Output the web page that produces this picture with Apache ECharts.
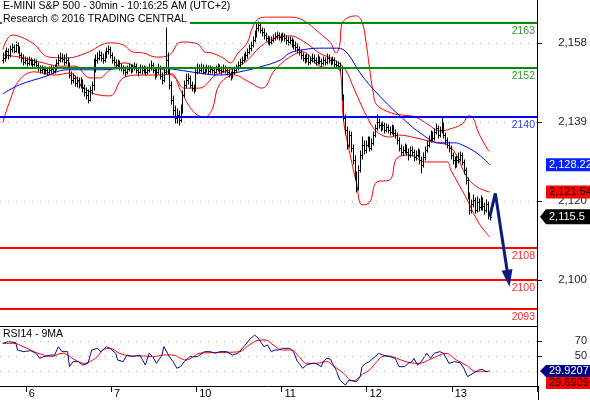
<!DOCTYPE html>
<html><head><meta charset="utf-8">
<script src="https://cdn.jsdelivr.net/npm/echarts@6/dist/echarts.min.js"></script>
<style>html,body{margin:0;padding:0;background:#fff}#c{width:590px;height:400px}</style>
</head><body><div id="c"></div>
<script>
const FONT = '"Liberation Sans", Arial, Helvetica, sans-serif';
const titleLine1 = 'E-MINI S&P 500 - 30min - 10:16:25 AM (UTC+2)';
const titleLine2 = 'Research \u00A9 2016 TRADING CENTRAL';
const rsiTitle = 'RSI14 - 9MA';

const categoryCount = 290;
const dayLabels = ['6','7','10','11','12','13'];
const dayStartIdx = [14,60,106,152,198,244];
const firstBarIdx = 1;

// [open, close, low, high] per 30-min bar
const ohlc = [
[2154,2154.5,2153.25,2155.5],[2154.5,2155,2153.75,2156],[2155,2156,2154.5,2156.75],[2156,2155,2154.25,2156.5],[2155,2156.5,2154.75,2157.25],
[2156.5,2157,2155.75,2157.75],[2157,2156,2155.5,2157.5],[2156,2157.5,2155.75,2158.25],[2157.5,2156.5,2155.5,2158],[2156.5,2155,2154.5,2157],
[2155,2154.5,2153.5,2155.5],[2154.5,2153.5,2152.75,2155],[2153.5,2154,2153,2154.75],[2154,2153.25,2152.5,2154.5],[2153.25,2154,2152.75,2154.75],
[2154,2153.5,2152.75,2154.5],[2153.5,2153,2152.25,2154],[2153,2153.5,2152.5,2154.25],[2153.5,2152.75,2152,2154],[2152.75,2152,2151.25,2153.25],
[2152,2151.5,2150.75,2152.5],[2151.5,2151.75,2150.75,2152.5],[2151.75,2151.25,2150.5,2152.25],[2151.25,2151.5,2150.5,2152.25],[2151.5,2151,2150.25,2152],
[2151,2151.5,2150.5,2152.25],[2151.5,2151.75,2150.75,2152.5],[2151.75,2151.25,2150.5,2152.25],[2151.25,2152,2150.75,2152.75],[2152,2153.25,2151.5,2154],
[2153.25,2154,2152.75,2155],[2154,2154.5,2153.5,2155.5],[2154.5,2154.25,2153.5,2155.25],[2154.25,2153.5,2152.75,2155],[2153.5,2154,2153,2155.25],
[2154,2152.75,2152,2154.5],[2152.75,2150.25,2149.5,2153.25],[2150.25,2149,2148,2151],[2149,2149.5,2148.25,2150.5],[2149.5,2148.25,2147.5,2150],
[2148.25,2149,2147.25,2149.75],[2149,2147.75,2147,2149.5],[2147.75,2148.5,2147,2149.5],[2148.5,2147,2146,2149],[2147,2146,2145,2147.75],
[2146,2145.25,2144.25,2147],[2145.25,2144,2143.25,2146.5],[2144,2146.5,2143.75,2147.25],[2146.5,2147.75,2145.5,2148.5],[2147.75,2151.5,2146.5,2154.25],
[2151.5,2154,2151,2155],[2154,2154.5,2153.25,2155.5],[2154.5,2155,2154,2156],[2155,2154.5,2153.75,2155.75],[2154.5,2154,2153.25,2155.25],
[2154,2155,2153.5,2155.75],[2155,2156,2154.5,2156.75],[2156,2156.5,2155.25,2157.25],[2156.5,2155,2154.5,2157],[2155,2154,2153.25,2155.5],
[2154,2153.5,2152.75,2154.75],[2153.5,2152.75,2152,2154],[2152.75,2153.25,2152.25,2154],[2153.25,2152.25,2151.5,2153.75],[2152.25,2152,2151.25,2153],
[2152,2151.5,2150.5,2152.5],[2151.5,2151,2150,2152.25],[2151,2151.75,2150.5,2152.5],[2151.75,2152.25,2151.25,2153],[2152.25,2151.5,2150.75,2152.75],
[2151.5,2152,2151,2152.75],[2152,2152.5,2151.5,2153.25],[2152.5,2151.5,2150.75,2153],[2151.5,2151,2150,2152],[2151,2152,2150.75,2152.75],
[2152,2151.5,2150.5,2152.5],[2151.5,2151.75,2150.75,2152.5],[2151.75,2151,2150.25,2152.25],[2151,2151.5,2150.5,2152.25],[2151.5,2152,2151,2153],
[2152,2152.75,2151.5,2153.75],[2152.75,2151.5,2150.75,2153.25],[2151.5,2150.25,2149.25,2152],[2150.25,2151,2149.75,2152],[2151,2152,2150.5,2153],
[2152,2150,2149.25,2152.5],[2150,2149,2148,2150.75],[2149,2151,2148.5,2152],[2151,2154,2150.5,2161.75],[2154,2151.5,2150.5,2155.5],
[2151.5,2147.75,2146.75,2152],[2147.75,2144,2143,2148.5],[2144,2141.75,2140.5,2145],[2141.75,2139.75,2138.5,2142.5],[2139.75,2140.5,2138.5,2142],
[2140.5,2139.25,2138,2141.5],[2139.25,2141.75,2138.75,2142.75],[2141.75,2145.25,2141,2146.25],[2145.25,2147.75,2144.75,2148.75],[2147.75,2149,2147,2150.5],
[2149,2149.5,2148,2150.5],[2149.5,2147.75,2147,2150],[2147.75,2147,2146.25,2148.5],[2147,2146.5,2145.75,2147.75],[2146.5,2151,2146.25,2151.75],
[2151,2152,2150.5,2153],[2152,2151.5,2150.75,2152.75],[2151.5,2152.25,2151,2153],[2152.25,2151,2150.5,2152.75],[2151,2151.5,2150.5,2152.25],
[2151.5,2152,2151,2152.75],[2152,2151.25,2150.5,2152.5],[2151.25,2151.75,2150.75,2152.5],[2151.75,2151.5,2150.75,2152.25],[2151.5,2151,2150.25,2152],
[2151,2151.75,2150.75,2152.5],[2151.75,2152.25,2151.25,2153],[2152.25,2151.5,2150.75,2152.75],[2151.5,2151.25,2150.5,2152.25],[2151.25,2152,2151,2152.75],
[2152,2151.5,2150.75,2152.5],[2151.5,2151,2150.25,2152],[2151,2150.5,2149.75,2151.5],[2150.5,2150,2149,2151],[2150,2151,2149.5,2151.75],
[2151,2151.5,2150.5,2152.25],[2151.5,2152,2151,2152.75],[2152,2152.75,2151.5,2153.5],[2152.75,2153.5,2152.25,2154.25],[2153.5,2154,2153,2154.75],
[2154,2154.5,2153.5,2155.25],[2154.5,2155,2154,2155.75],[2155,2155.75,2154.5,2156.5],[2155.75,2156.75,2155.25,2157.5],[2156.75,2157.5,2156,2158.25],
[2157.5,2158.75,2157,2159.5],[2158.75,2160,2158.25,2161],[2160,2161.75,2159.5,2162.75],[2161.75,2162.5,2161,2163.25],[2162.5,2161.25,2160.5,2163],
[2161.25,2160.75,2159.75,2161.75],[2160.75,2160,2159,2161.5],[2160,2159.25,2158.5,2160.5],[2159.25,2158.75,2157.75,2159.75],[2158.75,2158.25,2157.5,2159.5],
[2158.25,2158.75,2157.75,2159.5],[2158.75,2159.25,2158.25,2160],[2159.25,2159.75,2158.75,2160.5],[2159.75,2160,2159,2160.75],[2160,2159.5,2158.75,2160.5],
[2159.5,2159.25,2158.25,2160.25],[2159.25,2159.75,2158.75,2160.5],[2159.75,2159.25,2158.5,2160.25],[2159.25,2158.75,2157.75,2159.75],[2158.75,2158.25,2157.5,2159.5],
[2158.25,2158.75,2157.75,2159.5],[2158.75,2158,2157,2159.25],[2158,2157.5,2156.5,2158.75],[2157.5,2157,2156,2158.25],[2157,2156.5,2155.5,2157.75],
[2156.5,2155.75,2155,2157],[2155.75,2155,2154.25,2156.25],[2155,2154.5,2153.75,2155.5],[2154.5,2154,2153.25,2155],[2154,2154.5,2153.5,2155.25],
[2154.5,2153.5,2152.75,2155],[2153.5,2154,2153,2154.75],[2154,2154.5,2153.5,2155.25],[2154.5,2154,2153.25,2155],[2154,2153.5,2152.75,2154.5],
[2153.5,2154.25,2153,2155],[2154.25,2153.75,2153,2154.75],[2153.75,2153.25,2152.5,2154.25],[2153.25,2154,2152.75,2154.75],[2154,2153.5,2152.75,2154.5],
[2153.5,2154.5,2153,2155.25],[2154.5,2154,2153.25,2155],[2154,2153.5,2152.75,2154.5],[2153.5,2154,2153,2154.75],[2154,2153,2152.25,2154.5],
[2153,2152.75,2152,2153.75],[2152.75,2152.5,2151.75,2153.5],[2152.5,2152,2151.25,2153.25],[2152,2144.5,2144,2152.25],[2144.5,2139.75,2139.25,2145.25],
[2139.75,2136.75,2135.75,2140.5],[2136.75,2133,2132,2137.5],[2133,2135.5,2132.5,2136.5],[2135.5,2132.25,2131.25,2136.25],[2132.25,2129.5,2128.5,2133],
[2129.5,2125.75,2124.75,2130.25],[2125.75,2122.5,2121.5,2126.5],[2122.5,2127,2122,2128],[2127,2130.5,2126.5,2131.5],[2130.5,2133,2129.75,2135],
[2133,2131.75,2130.75,2134],[2131.75,2133,2131,2134],[2133,2134.25,2132.5,2135],[2134.25,2132.25,2131.5,2135],[2132.25,2133.5,2131.75,2134.5],
[2133.5,2135.5,2133,2136.25],[2135.5,2137.25,2135,2138],[2137.25,2138.75,2136.75,2140.5],[2138.75,2138,2137.25,2139.5],[2138,2137.25,2136.5,2138.5],
[2137.25,2138,2136.75,2138.75],[2138,2136.75,2136,2138.5],[2136.75,2137.5,2136.25,2138.25],[2137.5,2136.75,2136,2138],[2136.75,2136.25,2135.5,2137.5],
[2136.25,2137.25,2135.75,2138],[2137.25,2136,2135.25,2137.75],[2136,2135.5,2134.75,2136.75],[2135.5,2134.25,2133.25,2136],[2134.25,2132.25,2131.5,2134.75],
[2132.25,2131.25,2130.5,2133],[2131.25,2131.75,2130.5,2132.5],[2131.75,2132.25,2131,2133.25],[2132.25,2131.25,2130.5,2133],[2131.25,2130.5,2129.5,2132],
[2130.5,2131.75,2130,2132.5],[2131.75,2131.25,2130.25,2132.5],[2131.25,2130,2129.25,2131.75],[2130,2130.5,2129.5,2131.5],[2130.5,2131.25,2130,2132],
[2131.25,2129.5,2128.5,2131.75],[2129.5,2128.25,2126.25,2130],[2128.25,2130,2127.75,2131],[2130,2131.75,2129.5,2132.5],[2131.75,2133,2131.25,2134],
[2133,2134.25,2132.5,2135.25],[2134.25,2135.5,2133.75,2136.5],[2135.5,2134.75,2134,2136.25],[2134.75,2136.25,2134.25,2137],[2136.25,2137.25,2135.75,2138.25],
[2137.25,2135.5,2134.75,2137.75],[2135.5,2136.75,2135,2137.5],[2136.75,2138,2136,2139.75],[2138,2135.5,2134.75,2138.5],[2135.5,2134.25,2133.25,2136],
[2134.25,2133,2132.25,2134.75],[2133,2132.25,2131.25,2133.75],[2132.25,2130.5,2129.75,2132.75],[2130.5,2129.5,2128.5,2131],[2129.5,2128.25,2127.5,2130],
[2128.25,2129.5,2127.75,2130.25],[2129.5,2129.75,2128.75,2131],[2129.75,2130.5,2129.25,2131.25],[2130.5,2129,2128.25,2131],[2129,2127,2126,2129.5],
[2127,2124.5,2123.5,2127.5],[2124.5,2120.75,2119.75,2125],[2120.75,2117.25,2116.25,2121.25],[2117.25,2118.5,2116.5,2119.5],[2118.5,2119.5,2117.75,2120.75],
[2119.5,2117.25,2116.5,2120],[2117.25,2119,2116.75,2120.25],[2119,2117.75,2117,2119.75],[2117.75,2119.5,2117.25,2120.5],[2119.5,2118,2117.25,2120],
[2118,2117.25,2116.25,2118.75],[2117.25,2118.5,2116.75,2119.5],[2118.5,2116,2115,2119],[2116,2115.5,2114.75,2117]
];

// Bollinger bands and moving average: [bar index, price]
const upperBand = [[1,2156.4],[6,2160.0],[17,2158.1],[26,2154.6],[36,2154.4],[46,2155.6],[59,2158.1],[66,2157.6],[71,2155.9],[77,2155.6],[84,2154.6],[91,2155.1],[96,2158.1],[99,2158.3],[104,2158.1],[107,2157.6],[110,2155.9],[114,2155.6],[120,2154.4],[124,2153.2],[128,2155.6],[133,2158.1],[136,2162.0],[140,2164.2],[145,2164.4],[156,2164.4],[163,2163.7],[172,2160.5],[178,2158.1],[181,2155.6],[183,2157.6],[184,2162.5],[187,2164.2],[192,2164.7],[195,2163.2],[197,2158.8],[199,2152.2],[201,2146.1],[203,2142.9],[211,2140.9],[217,2140.4],[224,2139.9],[231,2138.0],[237,2136.5],[244,2137.2],[249,2138.2],[253,2140.2],[255,2139.7],[258,2136.0],[263,2131.9],[264,2131.4]];
const middleBand = [[1,2155.1],[10,2154.6],[21,2153.4],[32,2152.4],[40,2152.4],[48,2149.5],[53,2149.5],[59,2151.5],[67,2153.2],[75,2151.9],[86,2151.7],[94,2149.5],[99,2147.0],[107,2147.0],[116,2150.2],[124,2151.5],[132,2153.4],[140,2157.1],[148,2159.3],[156,2159.8],[164,2158.3],[172,2155.6],[180,2153.9],[186,2151.5],[191,2146.5],[198,2139.7],[203,2136.3],[210,2135.0],[215,2135.5],[224,2134.8],[235,2133.6],[241,2133.1],[246,2130.6],[251,2125.7],[257,2122.8],[264,2121.54]];
const lowerBand = [[1,2138.5],[5,2144.1],[10,2149.0],[18,2151.0],[29,2150.2],[37,2150.7],[45,2147.0],[53,2145.3],[59,2145.1],[66,2149.5],[75,2150.2],[86,2150.2],[92,2150.5],[97,2146.5],[104,2141.2],[110,2139.9],[114,2141.7],[118,2147.8],[126,2150.2],[134,2148.5],[141,2147.0],[148,2151.5],[156,2154.6],[163,2155.9],[172,2152.4],[180,2151.9],[183,2151.5],[185,2139.2],[188,2131.9],[192,2123.8],[195,2118.4],[199,2118.9],[203,2124.0],[210,2124.5],[214,2129.9],[221,2130.6],[229,2128.9],[241,2128.9],[243,2126.9],[251,2120.3],[258,2114.0],[264,2110.5]];
const blueMA = [[1,2145.6],[10,2147.8],[23,2149.7],[36,2151.5],[53,2151.5],[70,2151.9],[86,2151.9],[95,2151.5],[107,2150.7],[118,2150.2],[129,2151.0],[140,2152.2],[151,2153.9],[156,2155.6],[163,2156.4],[172,2156.8],[182,2156.8],[187,2155.6],[194,2150.7],[203,2145.8],[215,2140.4],[228,2135.5],[237,2133.6],[245,2133.6],[249,2133.1],[257,2131.1],[264,2128.22]];

// RSI(14) and its 9-period MA: [bar index, value]
const rsi = [[1,66.9],[4,69.1],[8,67.8],[9,58],[12,55.8],[16,57.1],[19,53.6],[21,46.9],[23,49.1],[27,51.3],[29,51.3],[31,62.5],[33,55.8],[36,55.8],[37,35.8],[39,42.5],[42,42.5],[44,38],[45,38],[47,40.2],[49,58],[52,60.2],[54,55.8],[57,62.5],[59,60.2],[62,53.6],[63,44.7],[66,42.5],[68,51.3],[71,49.1],[72,51.3],[75,51.3],[78,38],[80,53.6],[82,49.1],[84,40.2],[87,51.3],[88,62.5],[89,64.7],[91,49.1],[93,42.5],[95,33.6],[97,35.8],[99,42.5],[102,49.1],[106,49.1],[107,51.3],[110,55.8],[113,55.8],[116,53.6],[118,55.8],[122,55.8],[125,51.3],[126,49.1],[128,53.6],[132,64.7],[134,71.3],[137,78],[139,73.6],[142,62.5],[144,64.7],[146,55.8],[148,58],[150,58],[152,60.2],[156,60.2],[158,55.8],[160,43],[161,40.2],[163,33.6],[165,38],[168,40.2],[170,40.2],[173,35.8],[174,42.5],[176,46.9],[178,45.6],[179,40.2],[181,31.3],[183,18],[186,11.3],[188,18],[189,18],[192,15.8],[194,22.5],[195,35.8],[197,40.2],[199,42.5],[202,49.1],[204,53.6],[206,51.3],[210,49.1],[213,46.9],[215,35.8],[218,35.8],[220,40.2],[222,42.5],[223,46.9],[225,38],[227,42.5],[230,53.6],[232,46.9],[234,53.6],[237,55.8],[239,53.6],[242,40.2],[245,42.5],[248,41.1],[250,33.6],[252,22.5],[255,26.9],[258,31.3],[260,32.2],[262,29.1],[263,26.9],[264,29.9207]];
const rsiMA = [[1,66.9],[7,66.9],[12,62.5],[18,55.8],[23,51.3],[27,49.1],[33,53.6],[36,51.3],[40,44.7],[45,40.2],[48,42.5],[52,49.1],[55,58],[59,60.2],[64,53.6],[71,50],[77,50],[82,49.1],[88,51.3],[93,51.3],[97,46.9],[100,44.7],[104,49.1],[107,53.6],[113,54.4],[122,54.9],[129,55.8],[134,64.7],[140,71.3],[143,71.3],[147,64.7],[152,58],[157,58],[161,49.1],[165,40.2],[170,40.2],[176,42.5],[179,38],[185,26.9],[190,16.7],[196,26.9],[199,31.3],[203,42.5],[206,49.1],[210,50],[215,45.6],[221,41.1],[226,40.2],[231,44.7],[237,51.3],[240,53.6],[246,44.7],[251,38],[257,29.1],[260,29.1],[264,29.6909]];

// support / resistance levels
const levelValues = [2163, 2152, 2140, 2108, 2100, 2093];
// forecast arrow path [bar index, price]
const forecastPath = [[264,2115.5],[267,2121.2],[274,2100.4]];

// axis ticks
const priceTickValues = [2100, 2119.3, 2138.7, 2158];
const priceTickLabels = ['2,100', '2,120', '2,139', '2,158'];
const rsiTickValues = [50, 70];
const rsiGridValues = [30, 50, 70];

// last-value tags
const lastClose = 2115.5, lastCloseText = '2,115.5';
const lastMA = 2128.22, lastMAText = '2,128.22';
const lastMid = 2121.54, lastMidText = '2,121.54';
const lastRsi = 29.9207, lastRsiText = '29.9207';
const lastRsiMA = 29.6909, lastRsiMAText = '29.6909';

const PRICE_MIN = 2088.7, PRICE_MAX = 2168.6;
const RSI_MIN = 10, RSI_MAX = 90;

const levelColor = v => v > 2145 ? '#008c00' : (v === 2140 ? '#0000ff' : '#ff0000');
const levelTextColor = v => v > 2145 ? '#2e9a2e' : (v === 2140 ? '#3a3aff' : '#ff2a2a');

const categories = Array.from({length: categoryCount}, (_, i) => String(i));
const barData = ohlc.map((b, k) => [k + firstBarIdx, b[0], b[1], b[2], b[3]]);

const chart = echarts.init(document.getElementById('c'), null, {renderer: 'canvas'});

const dotted = {color: '#a8a8a8', width: 1, type: [1, 7]};

// classic OHLC bar: high-low stem, open tick left, close tick right
function renderOHLC(params, api) {
  const idx = api.value(0);
  const pO = api.coord([idx, api.value(1)]);
  const pC = api.coord([idx, api.value(2)]);
  const pL = api.coord([idx, api.value(3)]);
  const pH = api.coord([idx, api.value(4)]);
  const x = Math.round(pO[0]) + 0.5;
  const st = {stroke: '#000', lineWidth: 1};
  return {type: 'group', children: [
    {type: 'line', shape: {x1: x, y1: Math.round(pH[1]) - 0.5, x2: x, y2: Math.round(pL[1]) + 0.5}, style: st},
    {type: 'line', shape: {x1: x - 1.5, y1: Math.round(pO[1]) + 0.5, x2: x, y2: Math.round(pO[1]) + 0.5}, style: st},
    {type: 'line', shape: {x1: x, y1: Math.round(pC[1]) + 0.5, x2: x + 1.5, y2: Math.round(pC[1]) + 0.5}, style: st}
  ]};
}

const option = {
  animation: false,
  backgroundColor: '#ffffff',
  textStyle: {fontFamily: FONT},
  title: [
    {text: titleLine1, left: 2, top: 0, padding: [1, 3, 1, 1], backgroundColor: '#fff',
     textStyle: {fontFamily: FONT, fontSize: 10.5, fontWeight: 'normal', color: '#000'}},
    {text: titleLine2, left: 2, top: 13, padding: [1, 3, 1, 1], backgroundColor: '#fff',
     textStyle: {fontFamily: FONT, fontSize: 10.5, fontWeight: 'normal', color: '#000'}},
    {text: rsiTitle, left: 2, top: 328, padding: [1, 2, 1, 1],
     textStyle: {fontFamily: FONT, fontSize: 10.5, fontWeight: 'normal', color: '#000'}}
  ],
  grid: [
    {left: 0, right: 52, top: 0, height: 326},
    {left: 0, right: 52, top: 326, height: 60}
  ],
  xAxis: [
    {type: 'category', gridIndex: 0, data: categories, boundaryGap: true,
     axisLine: {show: true, lineStyle: {color: '#000', width: 1}},
     axisTick: {show: false}, axisLabel: {show: false}, splitLine: {show: false}},
    {type: 'category', gridIndex: 1, data: categories, boundaryGap: true,
     axisLine: {show: true, lineStyle: {color: '#000', width: 1}},
     axisTick: {show: true, length: 6, lineStyle: {color: '#000'},
       interval: (idx) => dayStartIdx.indexOf(idx) >= 0},
     axisLabel: {show: true, interval: (idx) => dayStartIdx.indexOf(idx) >= 0,
       formatter: (v, idx) => dayLabels[dayStartIdx.indexOf(Number(v))] || '',
       align: 'left', margin: 2, padding: [0, 0, 0, 2],
       color: '#000', fontSize: 11, fontFamily: FONT},
     splitLine: {show: false}}
  ],
  yAxis: [
    {type: 'value', gridIndex: 0, position: 'right', min: PRICE_MIN, max: PRICE_MAX, scale: true,
     axisLine: {show: true, lineStyle: {color: '#000', width: 1}},
     axisTick: {show: true, length: 5, lineStyle: {color: '#000'}, customValues: priceTickValues},
     axisLabel: {show: true, customValues: priceTickValues, align: 'right', margin: 50,
       color: '#222', fontSize: 11.5, fontFamily: FONT,
       formatter: v => priceTickLabels[priceTickValues.findIndex(t => Math.abs(t - v) < 1e-6)] || ''},
     splitLine: {show: false}},
    {type: 'value', gridIndex: 1, position: 'right', min: RSI_MIN, max: RSI_MAX,
     axisLine: {show: true, lineStyle: {color: '#000', width: 1}},
     axisTick: {show: true, length: 5, lineStyle: {color: '#000'}, customValues: rsiTickValues},
     axisLabel: {show: true, customValues: rsiTickValues, align: 'right', margin: 50,
       color: '#222', fontSize: 11, fontFamily: FONT},
     splitLine: {show: false}}
  ],
  series: [
    {name: 'grid-price', type: 'line', xAxisIndex: 0, yAxisIndex: 0, data: [], z: 0, silent: true,
     markLine: {silent: true, symbol: 'none', animation: false, label: {show: false},
       lineStyle: dotted, data: priceTickValues.map(v => ({yAxis: v}))}},
    {name: 'levels', type: 'line', xAxisIndex: 0, yAxisIndex: 0, data: [], z: 1, silent: true,
     markLine: {silent: true, symbol: 'none', animation: false,
       data: levelValues.map(v => ({yAxis: v,
         lineStyle: {color: levelColor(v), width: 2, type: 'solid'},
         label: {show: true, position: 'insideEndBottom', distance: [2, 3], formatter: String(v),
           color: levelTextColor(v), fontSize: 10.5, fontFamily: FONT}}))}},
    {name: 'upper', type: 'line', xAxisIndex: 0, yAxisIndex: 0, data: upperBand, smooth: 0.4,
     showSymbol: false, symbol: 'none', z: 2, lineStyle: {color: '#ff0000', width: 1}},
    {name: 'middle', type: 'line', xAxisIndex: 0, yAxisIndex: 0, data: middleBand, smooth: 0.4,
     showSymbol: false, symbol: 'none', z: 2, lineStyle: {color: '#ff0000', width: 1}},
    {name: 'lower', type: 'line', xAxisIndex: 0, yAxisIndex: 0, data: lowerBand, smooth: 0.4,
     showSymbol: false, symbol: 'none', z: 2, lineStyle: {color: '#ff0000', width: 1}},
    {name: 'ma', type: 'line', xAxisIndex: 0, yAxisIndex: 0, data: blueMA, smooth: 0.4,
     showSymbol: false, symbol: 'none', z: 2, lineStyle: {color: '#0000ff', width: 1}},
    {name: 'price', type: 'custom', xAxisIndex: 0, yAxisIndex: 0, data: barData,
     encode: {x: 0, y: [1, 2, 3, 4]}, renderItem: renderOHLC, z: 3, silent: true},
    {name: 'forecast', type: 'line', xAxisIndex: 0, yAxisIndex: 0, data: forecastPath.slice(0, 2),
     showSymbol: false, symbol: 'none', z: 4, lineStyle: {color: '#0a1a80', width: 3},
     markLine: {silent: true, animation: false, symbol: ['none', 'triangle'], symbolSize: [11, 17],
       lineStyle: {color: '#0a1a80', width: 3, type: 'solid'}, label: {show: false},
       data: [[{coord: forecastPath[1]}, {coord: forecastPath[2]}]]}},
    {name: 'grid-rsi', type: 'line', xAxisIndex: 1, yAxisIndex: 1, data: [], z: 0, silent: true,
     markLine: {silent: true, symbol: 'none', animation: false, label: {show: false},
       lineStyle: dotted, data: rsiGridValues.map(v => ({yAxis: v}))}},
    {name: 'rsiMA', type: 'line', xAxisIndex: 1, yAxisIndex: 1, data: rsiMA, smooth: 0.4,
     showSymbol: false, symbol: 'none', z: 2, lineStyle: {color: '#ff0000', width: 1}},
    {name: 'rsi', type: 'line', xAxisIndex: 1, yAxisIndex: 1, data: rsi,
     showSymbol: false, symbol: 'none', z: 3, lineStyle: {color: '#0a0a8c', width: 1}}
  ]
};
chart.setOption(option);

// value tags on the right axis, positioned through the axis scales
const axisX = 590 - 52;
function tag(yc, h, fill, text, textColor, pointer) {
  const body = axisX + 8;
  const pts = pointer
    ? [[axisX + 2, yc], [body, yc - h / 2], [600, yc - h / 2], [600, yc + h / 2], [body, yc + h / 2]]
    : [[body, yc - h / 2], [600, yc - h / 2], [600, yc + h / 2], [body, yc + h / 2]];
  return [
    {type: 'polygon', z: 100, shape: {points: pts}, style: {fill: fill}},
    {type: 'text', z: 101, x: body + 3, y: yc,
     style: {text: text, fill: textColor, font: '11px ' + FONT, textVerticalAlign: 'middle', verticalAlign: 'middle'}}
  ];
}
const yP = v => chart.convertToPixel({yAxisIndex: 0}, v);
const yR = v => chart.convertToPixel({yAxisIndex: 1}, v);
const gfx = [
  {type: 'line', z: 50, shape: {x1: axisX + 0.5, y1: 386, x2: axisX + 0.5, y2: 400}, style: {stroke: '#000', lineWidth: 1}}
];
gfx.push(...tag(yP(lastMA), 13, '#0020ff', lastMAText, '#fff', false));
gfx.push(...tag(yP(lastMid), 13, '#ff0000', lastMidText, '#000', false));
gfx.push(...tag(yP(lastClose), 15, '#000', lastCloseText, '#fff', true));
const rsiY = yR(lastRsi);
gfx.push(...tag(rsiY, 12, '#000080', lastRsiText, '#fff', true));
gfx.push(...tag(rsiY + 12, 12, '#ff0000', lastRsiMAText, '#000', false));
chart.setOption({graphic: gfx});
</script></body></html>
